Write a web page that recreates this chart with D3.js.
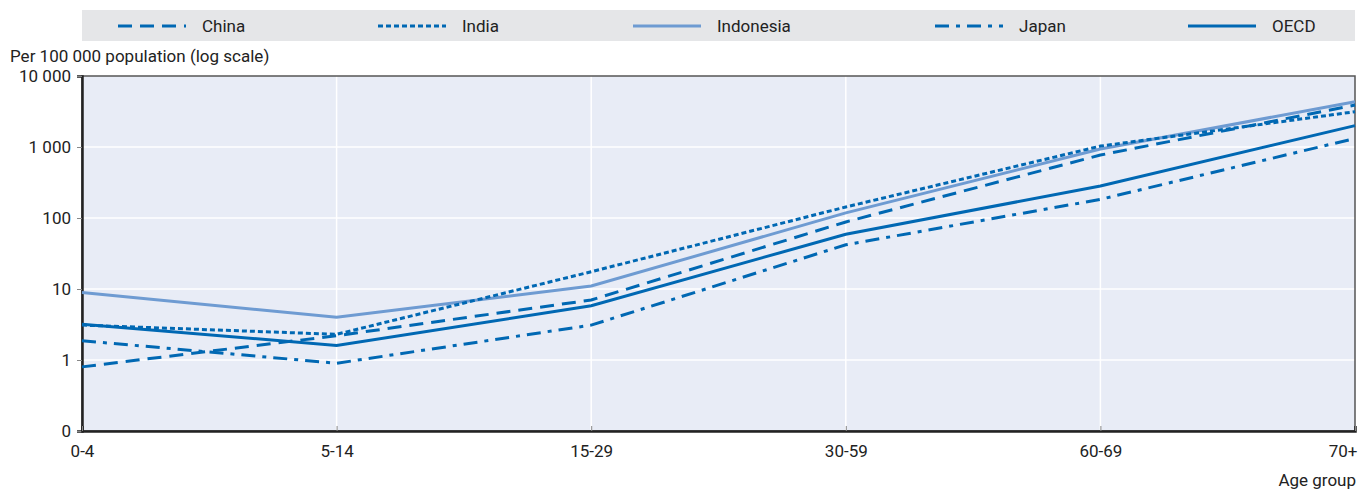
<!DOCTYPE html>
<html>
<head>
<meta charset="utf-8">
<script src="https://cdn.jsdelivr.net/npm/d3@7"></script>
<style>
  body { margin: 0; background: #fff; }
  text { font-family: "Liberation Sans Narrow", "Arial Narrow", "Roboto", sans-serif; fill: #222; }
</style>
</head>
<body>
<div id="chart"></div>
<script>
// Age groups along x
const ageGroups = ["0-4", "5-14", "15-29", "30-59", "60-69", "70+"];

// Rates per 100 000 population
const china     = [0.8, 2.2, 7.0, 88, 770, 3900];
const india     = [3.1, 2.3, 17.5, 143, 1030, 3140];
const indonesia = [8.9, 4.0, 11, 118, 935, 4350];
const japan     = [1.87, 0.9, 3.1, 42, 183, 1320];
const oecd      = [3.2, 1.6, 5.8, 59, 282, 2000];

const yTicks = [0.1, 1, 10, 100, 1000, 10000];
const yTickLabels = ["0", "1", "10", "100", "1 000", "10 000"];

const seriesNames = ["China", "India", "Indonesia", "Japan", "OECD"];
const seriesValues = [china, india, indonesia, japan, oecd];

const styles = {
  China:     {color: "#0068b3", dash: "14,8"},
  India:     {color: "#0068b3", dash: "5,3"},
  Indonesia: {color: "#6e9bd2", dash: null},
  Japan:     {color: "#0068b3", dash: "14,7,4,7"},
  OECD:      {color: "#0068b3", dash: null}
};

const W = 1359, H = 489;
const margin = {top: 76, right: 4, bottom: 58, left: 82};
const width = W - margin.left - margin.right,
      height = H - margin.top - margin.bottom;

const svg = d3.select("#chart").append("svg")
    .attr("width", W)
    .attr("height", H);

// legend band
const legend = svg.append("g");
legend.append("rect")
    .attr("x", 82).attr("y", 10)
    .attr("width", 1273).attr("height", 31)
    .attr("fill", "#e5e6e8");

const legendX = [118, 378, 633, 935, 1188];
seriesNames.forEach((name, i) => {
  const s = styles[name];
  legend.append("line")
      .attr("x1", legendX[i]).attr("x2", legendX[i] + 68)
      .attr("y1", 26).attr("y2", 26)
      .attr("stroke", s.color)
      .attr("stroke-width", 3)
      .attr("stroke-dasharray", s.dash);
  legend.append("text")
      .attr("x", legendX[i] + 84)
      .attr("y", 32)
      .attr("font-size", 17)
      .text(name);
});

const g = svg.append("g")
    .attr("transform", `translate(${margin.left}, ${margin.top})`);

const x = d3.scalePoint()
    .domain(ageGroups)
    .range([0, width]);

const y = d3.scaleLog()
    .domain([0.1, 10000])
    .range([height, 0]);

g.append("rect")
    .attr("width", width).attr("height", height)
    .attr("fill", "#e8ecf6");

// gridlines
g.selectAll(".hgrid")
    .data(yTicks.slice(1, -1))
    .enter().append("line")
    .attr("x1", 0).attr("x2", width)
    .attr("y1", d => y(d)).attr("y2", d => y(d))
    .attr("stroke", "#fff").attr("stroke-width", 1.5);

g.selectAll(".vgrid")
    .data(ageGroups.slice(1, -1))
    .enter().append("line")
    .attr("x1", d => x(d)).attr("x2", d => x(d))
    .attr("y1", 0).attr("y2", height)
    .attr("stroke", "#fff").attr("stroke-width", 1.5);

// frame
g.append("rect")
    .attr("width", width).attr("height", height)
    .attr("fill", "none")
    .attr("stroke", "#555").attr("stroke-width", 1.5);

// y axis
const yAxis = g.append("g")
    .call(d3.axisLeft(y).tickValues(yTicks).tickFormat((d, i) => yTickLabels[i]).tickSize(5).tickPadding(6));
yAxis.select(".domain").attr("stroke", "#222").attr("stroke-width", 2.5);
yAxis.selectAll(".tick line").attr("stroke", "#888");
yAxis.selectAll(".tick text").attr("font-size", 17).attr("fill", "#222").style("font-family", null);

// x axis
const xAxis = g.append("g")
    .attr("transform", `translate(0, ${height})`)
    .call(d3.axisBottom(x).tickSize(-5).tickPadding(14));
xAxis.select(".domain").attr("stroke", "#222").attr("stroke-width", 2.5);
xAxis.selectAll(".tick line").attr("stroke", "#888");
xAxis.selectAll(".tick text").attr("font-size", 17).attr("fill", "#222").style("font-family", null);
xAxis.selectAll(".tick text").filter(d => d === "70+").attr("text-anchor", "end").attr("dx", 2);

// axis titles
svg.append("text")
    .attr("x", 10).attr("y", 62)
    .attr("font-size", 17)
    .text("Per 100 000 population (log scale)");

svg.append("text")
    .attr("x", 1356).attr("y", 486)
    .attr("text-anchor", "end")
    .attr("font-size", 17)
    .text("Age group");

// lines
const line = d3.line()
    .x((d, i) => x(ageGroups[i]))
    .y(d => y(d));

const order = ["Indonesia", "India", "China", "Japan", "OECD"];
order.forEach(name => {
  const s = styles[name];
  g.append("path")
      .datum(seriesValues[seriesNames.indexOf(name)])
      .attr("fill", "none")
      .attr("stroke", s.color)
      .attr("stroke-width", 3)
      .attr("stroke-dasharray", s.dash)
      .attr("d", line);
});
</script>
</body>
</html>
